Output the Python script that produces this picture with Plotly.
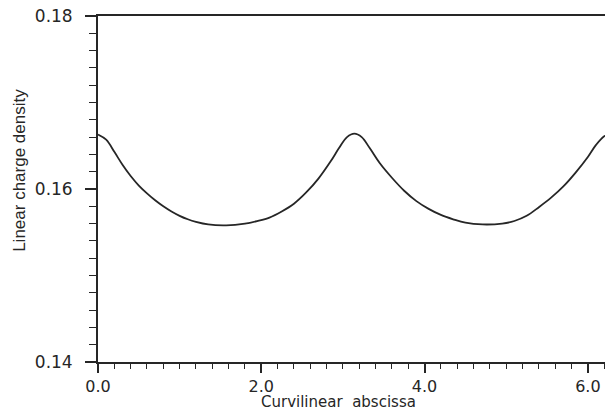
import plotly.graph_objects as go

# Curvilinear abscissa (x) and linear charge density (y)
abscissa = [0.00, 0.10, 0.20, 0.30, 0.40, 0.50, 0.60, 0.70, 0.80, 0.90, 1.00,
            1.10, 1.20, 1.35, 1.57, 1.80, 1.95, 2.10, 2.25, 2.40, 2.55, 2.70,
            2.85, 2.95, 3.05, 3.14, 3.23, 3.33, 3.45, 3.60, 3.75, 3.90, 4.05,
            4.20, 4.35, 4.50, 4.71, 4.95, 5.10, 5.25, 5.40, 5.55, 5.70, 5.85,
            6.00, 6.10, 6.20, 6.28]
density = [0.1663, 0.1657, 0.1643, 0.1628, 0.1615, 0.1604, 0.1595, 0.1587,
           0.1580, 0.1574, 0.1569, 0.1565, 0.1562, 0.1559, 0.1558, 0.1560,
           0.1563, 0.1567, 0.1574, 0.1583, 0.1596, 0.1612, 0.1632, 0.1647,
           0.1660, 0.1664, 0.1660, 0.1647, 0.1630, 0.1613, 0.1598, 0.1586,
           0.1577, 0.1570, 0.1565, 0.1561, 0.1559, 0.1560, 0.1563, 0.1569,
           0.1579, 0.1590, 0.1603, 0.1619, 0.1637, 0.1651, 0.1661, 0.1664]

x_title = "Curvilinear\u00a0 abscissa"
y_title = "Linear charge density"

ink = "#262626"

fig = go.Figure()
fig.add_trace(go.Scatter(
    x=abscissa, y=density, mode="lines",
    line=dict(color=ink, width=1.8, shape="spline", smoothing=1.0),
    showlegend=False, hoverinfo="skip",
))

fig.update_layout(
    width=606, height=412,
    margin=dict(l=98, r=1, t=16, b=50, pad=0),
    paper_bgcolor="white", plot_bgcolor="white",
    xaxis=dict(
        range=[0, 6.21], showgrid=False, zeroline=False,
        showline=True, linecolor=ink, linewidth=1.8, mirror=True,
        tickmode="linear", tick0=0, dtick=2.0, tickformat=".1f",
        ticks="outside", ticklen=9, tickwidth=1.5, tickcolor=ink,
        tickfont=dict(family="DejaVu Sans", size=16, color=ink),
        minor=dict(tickmode="linear", tick0=0, dtick=0.2, ticks="outside",
                   ticklen=5, tickwidth=1.3, tickcolor=ink, showgrid=False),
    ),
    yaxis=dict(
        range=[0.14, 0.18], showgrid=False, zeroline=False,
        showline=True, linecolor=ink, linewidth=1.8,
        tickmode="linear", tick0=0.14, dtick=0.02, tickformat=".2f",
        ticks="outside", ticklen=11, tickwidth=1.5, tickcolor=ink,
        tickfont=dict(family="DejaVu Sans", size=17, color=ink),
        ticklabelstandoff=9,
        minor=dict(tickmode="linear", tick0=0.14, dtick=0.002,
                   ticks="outside", ticklen=7, tickwidth=1.3,
                   tickcolor=ink, showgrid=False),
    ),
    annotations=[
        dict(text=x_title, xref="paper", yref="paper", x=(338.5 - 98) / 507,
             y=0, yshift=-40, xanchor="center", yanchor="middle",
             showarrow=False,
             font=dict(family="DejaVu Sans", size=15, color=ink)),
        dict(text=y_title, xref="paper", yref="y", x=0, xshift=-78,
             y=0.1621, xanchor="center", yanchor="middle", textangle=-90,
             showarrow=False,
             font=dict(family="Liberation Sans", size=17, color=ink)),
    ],
)

fig.write_html("out.html")
